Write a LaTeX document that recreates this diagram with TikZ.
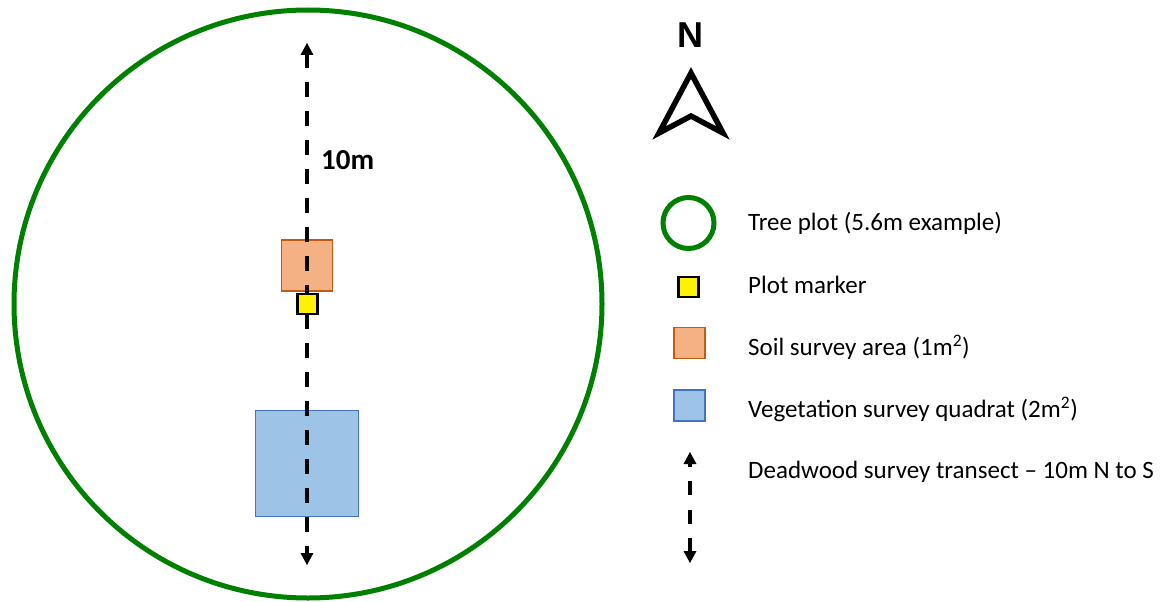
\documentclass[tikz,border=0pt]{standalone}
\usepackage{fontspec}
\setmainfont{Carlito}
\newfontfamily\northfont{Liberation Sans}
\usetikzlibrary{arrows.meta}

\definecolor{plotgreen}{RGB}{0,128,0}
\definecolor{soilfill}{RGB}{244,177,131}
\definecolor{soildraw}{RGB}{197,90,17}
\definecolor{vegfill}{RGB}{157,195,230}
\definecolor{vegdraw}{RGB}{68,114,196}

\tikzset{
  treeplot/.style={circle, draw=plotgreen, line width=5pt, inner sep=0pt},
  soilbox/.style={draw=soildraw, fill=soilfill, line width=1.8pt, inner sep=0pt},
  vegbox/.style={draw=vegdraw, fill=vegfill, line width=1.8pt, inner sep=0pt},
  markerbox/.style={draw=black, fill=yellow, line width=2.2pt, inner sep=0pt, minimum size=20pt},
  transect/.style={line width=4pt,
    {Triangle[width=13pt,length=12pt,line width=0pt]}-{Triangle[width=13pt,length=12pt,line width=0pt]}},
  keytext/.style={anchor=west, font=\fontsize{25}{30}\selectfont, inner sep=0pt}
}

\begin{document}
\begin{tikzpicture}[x=1pt, y=-1pt]
	\useasboundingbox (0,0) rectangle (1176,602);

	% plot with its survey areas
	\node[treeplot, minimum size=588pt] (plot) at (308,304) {};
	\node[soilbox, minimum size=51pt] (soil) at (307,265.5) {};
	\node[vegbox, minimum width=103pt, minimum height=106pt] (quadrat) at (307,463.5) {};

	\coordinate (tN) at (307,43);
	\coordinate (tS) at (307,565);
	\draw[transect, dash pattern=on 15pt off 14pt, dash phase=2pt] (tN) -- (tS);
	\node[markerbox] (marker) at (307.5,304) {};
	\node[anchor=west, inner sep=0pt, font=\fontsize{29}{34}\selectfont\bfseries] (len) at (321,160) {10m};

	% north arrow
	\node[font=\fontsize{36}{40}\selectfont\northfont\bfseries] (north) at (690,35) {N};
	\draw[line width=5.5pt, miter limit=4] (691,73) -- (723,133) -- (691,116) -- (659,133) -- cycle;

	% key
	\node[treeplot, minimum size=51pt] (keyplot) at (688.5,223) {};
	\node[markerbox] (keymarker) at (688.5,287) {};
	\node[soilbox, minimum size=31pt] (keysoil) at (689.5,343) {};
	\node[vegbox, minimum size=31pt] (keyveg) at (689.5,405.5) {};
	\coordinate (kN) at (690,452);
	\coordinate (kS) at (690,563);
	\draw[transect, dash pattern=on 14pt off 14.5pt, dash phase=11.5pt] (kN) -- (kS);

	\node[keytext] (t1) at (748,223) {Tree plot (5.6m example)};
	\node[keytext] (t2) at (748,285) {Plot marker};
	\node[keytext] (t3) at (748,347) {Soil survey area (1m\textsuperscript{2})};
	\node[keytext] (t4) at (748,409) {Vegetation survey quadrat (2m\textsuperscript{2})};
	\node[keytext] (t5) at (748,472) {Deadwood survey transect -- 10m N to S};
\end{tikzpicture}
\end{document}
